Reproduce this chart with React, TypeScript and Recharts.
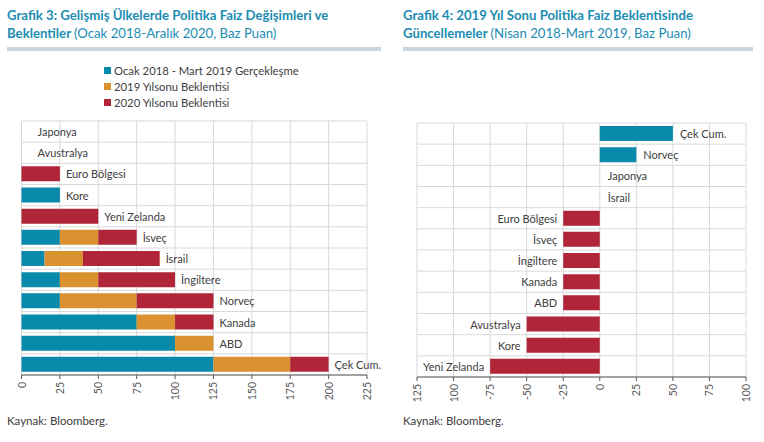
import React from 'react';
import { ComposedChart, Bar, Scatter, XAxis, YAxis, CartesianGrid, Cell } from 'recharts';

// ---------- Grafik 3 data ----------
const leftCategories = ['Japonya', 'Avustralya', 'Euro Bölgesi', 'Kore', 'Yeni Zelanda', 'İsveç', 'İsrail', 'İngiltere', 'Norveç', 'Kanada', 'ABD', 'Çek Cum.'];
const realized2018to2019 = [0, 0, 0, 25, 0, 25, 15, 25, 25, 75, 100, 125];
const expectation2019 = [0, 0, 0, 0, 0, 25, 25, 25, 50, 25, 25, 50];
const expectation2020 = [0, 0, 25, 0, 50, 25, 50, 50, 50, 25, 0, 25];
const leftSeriesNames = ['Ocak 2018 - Mart 2019 Gerçekleşme', '2019 Yılsonu Beklentisi', '2020 Yılsonu Beklentisi'];
const leftTicks = [0, 25, 50, 75, 100, 125, 150, 175, 200, 225];

// ---------- Grafik 4 data ----------
const rightCategories = ['Çek Cum.', 'Norveç', 'Japonya', 'İsrail', 'Euro Bölgesi', 'İsveç', 'İngiltere', 'Kanada', 'ABD', 'Avustralya', 'Kore', 'Yeni Zelanda'];
const rightValues = [50, 25, 0, 0, -25, -25, -25, -25, -25, -50, -50, -75];
const rightTicks = [-125, -100, -75, -50, -25, 0, 25, 50, 75, 100];
const rightTickLabels = ['125', '100', '-75', '-50', '-25', '0', '25', '50', '75', '100'];

const TEAL = '#0a8aab';
const ORANGE = '#da9230';
const RED = '#b02538';
const TITLE = '#1b8db3';
const TEXT = '#404040';
const FONT = 'Lato, "Open Sans", sans-serif';

const leftData = leftCategories.map((name, i) => ({
  name,
  r: realized2018to2019[i],
  e19: expectation2019[i],
  e20: expectation2020[i],
  total: realized2018to2019[i] + expectation2019[i] + expectation2020[i],
}));
const rightData = rightCategories.map((name, i) => ({ name, v: rightValues[i] }));

const RotTick = (props: any) => {
  const { x, y, payload, labels, ticks } = props;
  const idx = ticks.indexOf(payload.value);
  const text = labels ? labels[idx] : String(payload.value);
  return (
    <text
      x={x}
      y={y + 1}
      transform={`rotate(-90 ${x} ${y + 1})`}
      textAnchor="end"
      dominantBaseline="central"
      fontFamily={FONT}
      fontSize={10.5}
      fill="#595959"
    >
      {text}
    </text>
  );
};

const LeftLabel = (p: any) => {
  const { cx, cy, payload } = p;
  const gap = payload.total === 0 ? 16 : 6;
  return (
    <text x={cx + gap} y={cy} dominantBaseline="central" fontFamily={FONT} fontSize={11} fill={TEXT}>
      {payload.name}
    </text>
  );
};

const RightLabel = (p: any) => {
  const { cx, cy, payload } = p;
  const v = payload.v;
  if (v < 0) {
    return (
      <text x={cx - 6} y={cy} textAnchor="end" dominantBaseline="central" fontFamily={FONT} fontSize={11} fill={TEXT}>
        {payload.name}
      </text>
    );
  }
  return (
    <text x={cx + (v === 0 ? 8 : 7)} y={cy} dominantBaseline="central" fontFamily={FONT} fontSize={11} fill={TEXT}>
      {payload.name}
    </text>
  );
};

const rowLines = (n: number) => ({ offset }: any) =>
  Array.from({ length: n + 1 }, (_, i) => offset.top + (i * offset.height) / n);

const titleStyle: React.CSSProperties = {
  position: 'absolute',
  top: 6,
  fontFamily: FONT,
  fontWeight: 700,
  fontSize: 13.2,
  lineHeight: '18px',
  color: TITLE,
  whiteSpace: 'nowrap',
};

export default function App() {
  const legendColors = [TEAL, ORANGE, RED];
  return (
    <div style={{ position: 'absolute', left: 0, top: 0, width: 764, height: 442, background: '#fff', fontFamily: FONT, overflow: 'hidden' }}>
      {/* Titles */}
      <div style={{ ...titleStyle, left: 7 }}>
        Grafik 3: Gelişmiş Ülkelerde Politika Faiz Değişimleri ve
        <br />
        Beklentiler <span style={{ fontWeight: 400 }}>(Ocak 2018-Aralık 2020, Baz Puan)</span>
      </div>
      <div style={{ position: 'absolute', left: 7, top: 47, width: 374, height: 4, background: '#cad5e2' }} />
      <div style={{ ...titleStyle, left: 403 }}>
        Grafik 4: 2019 Yıl Sonu Politika Faiz Beklentisinde
        <br />
        Güncellemeler <span style={{ fontWeight: 400 }}>(Nisan 2018-Mart 2019, Baz Puan)</span>
      </div>
      <div style={{ position: 'absolute', left: 403, top: 47, width: 350, height: 4, background: '#cad5e2' }} />

      {/* Legend */}
      {leftSeriesNames.map((name, i) => (
        <div key={name} style={{ position: 'absolute', left: 104, top: 63 + i * 16, height: 14, display: 'flex', alignItems: 'center', fontSize: 11.3, color: TEXT, whiteSpace: 'nowrap' }}>
          <span style={{ display: 'inline-block', width: 7, height: 7, background: legendColors[i], marginRight: 3 }} />
          {name}
        </div>
      ))}

      {/* Left chart */}
      <div style={{ position: 'absolute', left: 0, top: 110 }}>
        <ComposedChart width={390} height={300} data={leftData} layout="vertical" margin={{ top: 11, right: 23, bottom: 5, left: 21.5 }} barCategoryGap={3}>
          <CartesianGrid stroke="#d9d9d9" horizontalCoordinatesGenerator={rowLines(leftCategories.length)} />
          <XAxis
            type="number"
            domain={[0, 225]}
            ticks={leftTicks}
            interval={0}
            height={30}
            axisLine={{ stroke: '#595959' }}
            tickLine={{ stroke: '#595959' }}
            tickSize={4}
            tick={<RotTick ticks={leftTicks} />}
          />
          <YAxis type="category" dataKey="name" hide width={0} />
          <Bar dataKey="r" stackId="a" fill={TEAL} isAnimationActive={false} />
          <Bar dataKey="e19" stackId="a" fill={ORANGE} isAnimationActive={false} />
          <Bar dataKey="e20" stackId="a" fill={RED} isAnimationActive={false} />
          <Scatter dataKey="total" shape={<LeftLabel />} isAnimationActive={false} legendType="none" />
        </ComposedChart>
      </div>

      {/* Right chart */}
      <div style={{ position: 'absolute', left: 390, top: 110 }}>
        <ComposedChart width={374} height={300} data={rightData} layout="vertical" margin={{ top: 13, right: 18, bottom: 3, left: 27 }} barCategoryGap={3}>
          <CartesianGrid stroke="#d9d9d9" horizontalCoordinatesGenerator={rowLines(rightCategories.length)} />
          <XAxis
            type="number"
            domain={[-125, 100]}
            ticks={rightTicks}
            interval={0}
            height={30}
            axisLine={{ stroke: '#595959' }}
            tickLine={{ stroke: '#595959' }}
            tickSize={4}
            tick={<RotTick ticks={rightTicks} labels={rightTickLabels} />}
          />
          <YAxis type="category" dataKey="name" hide width={0} />
          <Bar dataKey="v" isAnimationActive={false}>
            {rightData.map((d) => (
              <Cell key={d.name} fill={d.v >= 0 ? TEAL : RED} />
            ))}
          </Bar>
          <Scatter dataKey="v" shape={<RightLabel />} isAnimationActive={false} legendType="none" />
        </ComposedChart>
      </div>

      {/* Sources */}
      <div style={{ position: 'absolute', left: 7, top: 414, fontSize: 11.5, color: TEXT }}>Kaynak: Bloomberg.</div>
      <div style={{ position: 'absolute', left: 403, top: 414, fontSize: 11.5, color: TEXT }}>Kaynak: Bloomberg.</div>
    </div>
  );
}
